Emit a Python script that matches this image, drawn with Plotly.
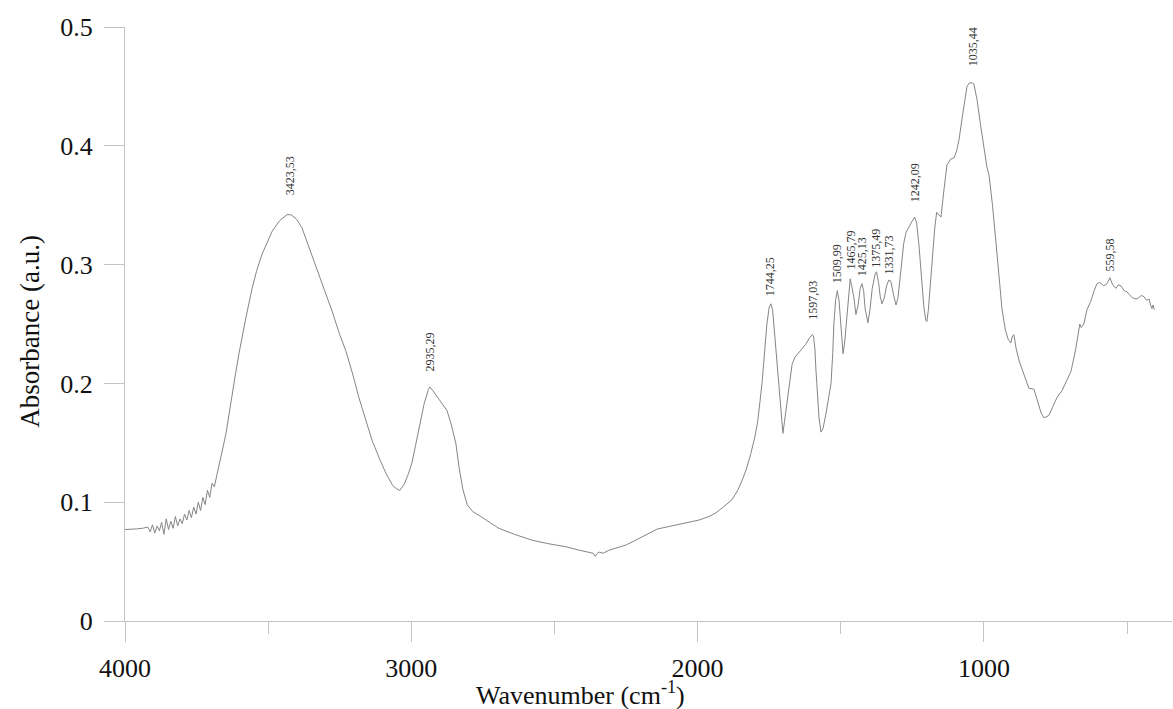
import numpy as np
import plotly.graph_objects as go

# ---- data ----
wavenumber = [
    4000, 3980, 3960, 3940, 3920, 3912, 3904, 3896, 3888, 3880, 3872, 3864, 3856, 3848,
    3840, 3832, 3824, 3816, 3808, 3800, 3792, 3784, 3776, 3768, 3760, 3752, 3744, 3736,
    3728, 3720, 3712, 3704, 3696, 3688, 3680, 3672, 3660, 3647, 3636, 3626, 3614, 3602,
    3590, 3578, 3556, 3540, 3521, 3500, 3486, 3460, 3434, 3420, 3400, 3382, 3350, 3322,
    3300, 3277, 3250, 3228, 3205, 3183, 3160, 3137, 3110, 3088, 3065, 3050, 3040, 3025,
    3010, 2998, 2985, 2973, 2955, 2940, 2935, 2925, 2905, 2890, 2875, 2860, 2844, 2833,
    2820, 2805, 2785, 2764, 2739, 2694, 2640, 2578, 2520, 2460, 2420, 2379, 2365, 2358,
    2352, 2344, 2330, 2310, 2286, 2250, 2229, 2200, 2170, 2140, 2110, 2070, 2041, 1995,
    1960, 1936, 1910, 1880, 1860, 1845, 1831, 1815, 1800, 1790, 1775, 1765, 1758, 1750,
    1744, 1738, 1733, 1725, 1716, 1708, 1702, 1698, 1693, 1688, 1680, 1670, 1660, 1653,
    1645, 1635, 1622, 1610, 1600, 1595, 1590, 1587, 1580, 1576, 1569, 1562, 1552, 1542,
    1534, 1528, 1524, 1518, 1512, 1506, 1499, 1492, 1486, 1478, 1472, 1467, 1460, 1454,
    1447, 1440, 1432, 1426, 1420, 1415, 1405, 1398, 1390, 1380, 1375, 1368, 1362, 1356,
    1348, 1340, 1332, 1325, 1316, 1307, 1300, 1290, 1280, 1272, 1262, 1252, 1242, 1235,
    1227, 1218, 1210, 1203, 1199, 1194, 1188, 1181, 1172, 1165, 1158, 1150, 1140, 1129,
    1115, 1104, 1095, 1087, 1075, 1059, 1050, 1041, 1035, 1024, 1012, 1000, 990, 982,
    970, 958, 947, 937, 925, 915, 906, 900, 895, 888, 877, 860, 843, 825,
    810, 800, 790, 780, 773, 760, 745, 727, 712, 696, 680, 670, 665, 660,
    651, 640, 627, 615, 605, 595, 581, 570, 560, 550, 539, 530, 521, 510,
    500, 493, 481, 469, 460, 450, 441, 432, 423, 418, 413, 409, 405,
]
absorbance = [
    0.077, 0.077, 0.0775, 0.078, 0.079, 0.075, 0.081, 0.074, 0.080, 0.076, 0.083, 0.073, 0.086, 0.077,
    0.084, 0.078, 0.088, 0.080, 0.086, 0.082, 0.090, 0.085, 0.093, 0.087, 0.096, 0.090, 0.100, 0.093,
    0.104, 0.098, 0.110, 0.104, 0.116, 0.113, 0.122, 0.132, 0.145, 0.158, 0.175, 0.191, 0.208, 0.225,
    0.241, 0.255, 0.280, 0.295, 0.309, 0.321, 0.328, 0.337, 0.342, 0.342, 0.338, 0.331, 0.310, 0.292,
    0.277, 0.261, 0.241, 0.227, 0.208, 0.188, 0.170, 0.152, 0.136, 0.124, 0.114, 0.111, 0.110, 0.115,
    0.124, 0.133, 0.148, 0.163, 0.183, 0.195, 0.197, 0.194, 0.187, 0.182, 0.177, 0.165, 0.149, 0.129,
    0.111, 0.098, 0.092, 0.089, 0.085, 0.078, 0.073, 0.068, 0.065, 0.0625, 0.060, 0.058, 0.057, 0.0545,
    0.0565, 0.058, 0.057, 0.0595, 0.0615, 0.064, 0.0665, 0.070, 0.074, 0.0775, 0.079, 0.081, 0.0825, 0.085,
    0.088, 0.091, 0.096, 0.102, 0.110, 0.118, 0.127, 0.140, 0.155, 0.168, 0.200, 0.230, 0.250, 0.264,
    0.267, 0.262, 0.247, 0.225, 0.200, 0.175, 0.158, 0.165, 0.175, 0.185, 0.200, 0.216, 0.222, 0.224,
    0.227, 0.229, 0.233, 0.238, 0.241, 0.240, 0.228, 0.213, 0.185, 0.171, 0.159, 0.162, 0.174, 0.187,
    0.200, 0.225, 0.250, 0.270, 0.278, 0.270, 0.250, 0.225, 0.235, 0.260, 0.280, 0.288, 0.280, 0.272,
    0.258, 0.265, 0.280, 0.284, 0.278, 0.263, 0.251, 0.262, 0.280, 0.292, 0.294, 0.285, 0.273, 0.267,
    0.272, 0.282, 0.287, 0.286, 0.275, 0.266, 0.272, 0.295, 0.318, 0.327, 0.332, 0.336, 0.340, 0.335,
    0.317, 0.290, 0.265, 0.253, 0.252, 0.262, 0.283, 0.302, 0.330, 0.344, 0.342, 0.340, 0.362, 0.384,
    0.389, 0.390, 0.396, 0.405, 0.425, 0.450, 0.453, 0.453, 0.452, 0.439, 0.418, 0.397, 0.383, 0.375,
    0.350, 0.319, 0.290, 0.263, 0.245, 0.237, 0.234, 0.240, 0.241, 0.230, 0.219, 0.207, 0.196, 0.195,
    0.182, 0.175, 0.171, 0.172, 0.173, 0.180, 0.188, 0.194, 0.202, 0.210, 0.228, 0.245, 0.250, 0.247,
    0.250, 0.262, 0.269, 0.278, 0.284, 0.285, 0.282, 0.284, 0.289, 0.283, 0.280, 0.283, 0.282, 0.278,
    0.277, 0.275, 0.272, 0.271, 0.272, 0.274, 0.273, 0.270, 0.271, 0.266, 0.263, 0.266, 0.262,
]

peak_wavenumbers = [3423.53, 2935.29, 1744.25, 1597.03, 1509.99, 1465.79, 1425.13,
                    1375.49, 1331.73, 1242.09, 1035.44, 559.58]
peak_labels = ["3423,53", "2935,29", "1744,25", "1597,03", "1509,99", "1465,79", "1425,13",
               "1375,49", "1331,73", "1242,09", "1035,44", "559,58"]

x_tick_values = [4000, 3000, 2000, 1000]
y_tick_values = [0, 0.1, 0.2, 0.3, 0.4, 0.5]
y_tick_labels = ["0", "0.1", "0.2", "0.3", "0.4", "0.5"]

x_title = "Wavenumber (cm<sup>-1</sup>)"
y_title = "Absorbance (a.u.)"

# ---- styling ----
SERIF = "Liberation Serif, Times New Roman, serif"
AXIS_COLOR = "#c4c4c4"
TEXT_COLOR = "#111111"
label_shift_px = [18, 15, 7, 15, 10, 10, 7, 3, 5, 14, 17, 6]

fig = go.Figure()
fig.add_trace(go.Scatter(
    x=wavenumber, y=absorbance, mode="lines",
    line=dict(color="#858585", width=1), showlegend=False, hoverinfo="x+y",
))

wn_asc = np.array(wavenumber[::-1], dtype=float)
ab_asc = np.array(absorbance[::-1], dtype=float)
for wn, txt, sh in zip(peak_wavenumbers, peak_labels, label_shift_px):
    yv = float(np.interp(wn, wn_asc, ab_asc))
    fig.add_annotation(
        x=wn, y=yv, text=txt, showarrow=False, textangle=-90,
        xanchor="center", yanchor="bottom", yshift=sh,
        font=dict(family=SERIF, size=12, color="#333333"), borderpad=0,
    )

# axis titles placed as paper-anchored annotations
fig.add_annotation(
    xref="paper", yref="paper", x=0.4355, y=-0.122, text=x_title, showarrow=False,
    xanchor="center", yanchor="middle", font=dict(family=SERIF, size=26, color=TEXT_COLOR),
)
fig.add_annotation(
    xref="paper", yref="paper", x=-0.0907, y=0.487, text=y_title, showarrow=False,
    textangle=-90, xanchor="center", yanchor="middle",
    font=dict(family=SERIF, size=27, color=TEXT_COLOR),
)

fig.update_layout(
    width=1173, height=709,
    margin=dict(l=125, r=1, t=27, b=88, autoexpand=False),
    paper_bgcolor="white", plot_bgcolor="white",
    font=dict(family=SERIF, color=TEXT_COLOR),
    showlegend=False,
)
fig.update_xaxes(
    range=[4000, 343], tickmode="array", tickvals=x_tick_values, automargin=False,
    ticks="outside", ticklen=20, tickwidth=1, tickcolor=AXIS_COLOR,
    minor=dict(dtick=500, tick0=0, ticks="outside", ticklen=12, tickcolor=AXIS_COLOR, showgrid=False),
    showline=True, linecolor=AXIS_COLOR, linewidth=1, mirror=False,
    showgrid=False, zeroline=False,
    tickfont=dict(family=SERIF, size=26, color=TEXT_COLOR), ticklabelstandoff=4,
)
fig.update_yaxes(
    range=[0, 0.5], tickmode="array", tickvals=y_tick_values, ticktext=y_tick_labels, automargin=False,
    ticks="outside", ticklen=20, tickwidth=1, tickcolor=AXIS_COLOR,
    showline=True, linecolor=AXIS_COLOR, linewidth=1,
    showgrid=False, zeroline=False,
    tickfont=dict(family=SERIF, size=26, color=TEXT_COLOR), ticklabelstandoff=6,
)

fig.write_html(
    "out.html",
    config={"displayModeBar": False},
    post_script="document.body.style.margin='0';document.body.style.overflow='hidden';",
)
